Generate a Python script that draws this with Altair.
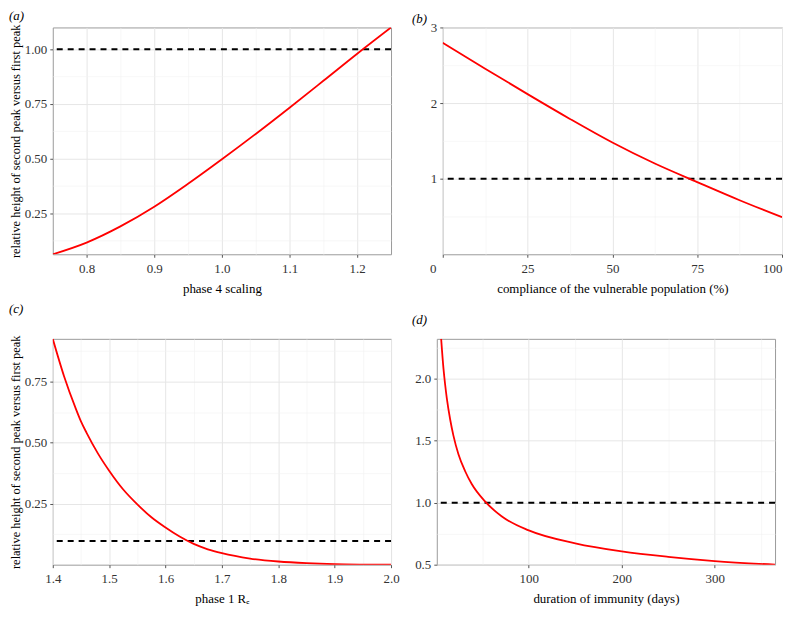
import json
import altair as alt
import pandas as pd

FONT = "Liberation Serif"
RED = "#ff0000"

# ---- panel (a): phase 4 scaling
a_x = [0.75, 0.8, 0.85, 0.9, 0.95, 1.0, 1.05, 1.1, 1.15, 1.2, 1.25]
a_y = [0.0625, 0.116, 0.19, 0.28, 0.385, 0.497, 0.613, 0.733, 0.856, 0.98, 1.10]
a_ref = [1.0]

# ---- panel (b): compliance of the vulnerable population (%)
b_x = [0, 12.5, 25, 37.5, 50, 62.5, 75, 87.5, 100]
b_y = [2.797, 2.455, 2.118, 1.79, 1.478, 1.20, 0.955, 0.715, 0.49]
b_ref = [1.0]

# ---- panel (c): phase 1 Re
c_x = [1.40, 1.42, 1.44, 1.45, 1.46, 1.48, 1.50, 1.525, 1.55, 1.575, 1.60,
       1.625, 1.65, 1.675, 1.70, 1.75, 1.80, 1.85, 1.90, 1.95, 2.00]
c_y = [0.925, 0.772, 0.644, 0.587, 0.540, 0.456, 0.385, 0.308, 0.247, 0.194, 0.152,
       0.115, 0.085, 0.063, 0.047, 0.025, 0.013, 0.006, 0.002, 0.0005, 0.0]
c_ref = [0.097]

# ---- panel (d): duration of immunity (days)
d_x = [5.7, 8.2, 10.0, 11.8, 15.4, 18.9, 24.3, 31.4, 38.6, 52.9, 70.7, 100,
       150, 200, 250, 300, 365]
d_y = [2.32, 2.08, 1.95, 1.84, 1.67, 1.54, 1.39, 1.255, 1.15, 1.01, 0.89, 0.776,
       0.672, 0.607, 0.563, 0.529, 0.50]
d_ref = [1.0]

YTITLE = "relative height of second peak versus first peak"


def make_axis(major, minor, fmt, title, zero_offset=0, right_value=None):
    vals = sorted(major + minor)
    maj = json.dumps(major)
    is_minor = f"indexof({maj}, datum.value) < 0"
    kw = dict(
        values=vals,
        title=title,
        labelOverlap=False,
        labelExpr=f"indexof({maj}, datum.value) >= 0 ? format(datum.value, '{fmt}') : ''",
        tickOpacity={"condition": {"test": is_minor, "value": 0}, "value": 1},
        gridWidth={"condition": {"test": is_minor, "value": 0.6}, "value": 1},
        gridColor={"condition": {"test": is_minor, "value": "#f1f1f1"}, "value": "#e6e6e6"},
    )
    if zero_offset:
        kw["labelOffset"] = {"condition": {"test": "datum.value == 0", "value": zero_offset}, "value": 0}
    if right_value is not None:
        kw["labelAlign"] = {"condition": {"test": f"datum.value == {right_value}", "value": "right"},
                            "value": "center"}
    return alt.Axis(**kw)


def panel(xs, ys, ref, xdom, ydom, xaxis, yaxis, tag, tag_dx, tag_offset, w, h):
    df = pd.DataFrame({"x": xs, "y": ys})
    rdf = pd.DataFrame({"y": ref})
    xsc = alt.Scale(domain=xdom, nice=False, zero=False)
    ysc = alt.Scale(domain=ydom, nice=False, zero=False)
    rule = alt.Chart(rdf).mark_rule(color="black", strokeWidth=2,
                                    strokeDash=[6, 5]).encode(
        y=alt.Y("y:Q", scale=ysc, axis=yaxis))
    line = alt.Chart(df).mark_line(color=RED, strokeWidth=1.8, clip=True,
                                   interpolate="monotone").encode(
        x=alt.X("x:Q", scale=xsc, axis=xaxis),
        y=alt.Y("y:Q", scale=ysc, axis=yaxis),
    )
    return alt.layer(rule, line).properties(
        width=w, height=h,
        title=alt.TitleParams(text=tag, anchor="start", frame="group", dx=tag_dx,
                              offset=tag_offset, font=FONT, fontSize=13,
                              fontStyle="italic", fontWeight="normal", color="black"),
    )


pa = panel(a_x, a_y, a_ref, [0.75, 1.25], [0.0625, 1.10],
           make_axis([0.8, 0.9, 1.0, 1.1, 1.2], [0.85, 0.95, 1.05, 1.15], ".1f", "phase 4 scaling"),
           make_axis([0.25, 0.5, 0.75, 1.0], [0.125, 0.375, 0.625, 0.875], ".2f", YTITLE),
           "(a)", -44, 0.5, 340, 228)

pb = panel(b_x, b_y, b_ref, [0, 100], [0, 3],
           make_axis([0, 25, 50, 75, 100], [12.5, 37.5, 62.5, 87.5], "d",
                     "compliance of the vulnerable population (%)", zero_offset=-10,
                     right_value=100),
           make_axis([1, 2, 3], [0.5, 1.5, 2.5], "d", None),
           "(b)", -31, -4.5, 341, 228)

pc = panel(c_x, c_y, c_ref, [1.4, 2.0], [0, 0.925],
           make_axis([1.4, 1.5, 1.6, 1.7, 1.8, 1.9, 2.0], [1.45, 1.55, 1.65, 1.75, 1.85, 1.95],
                     ".1f", "phase 1 R\u2091"),
           make_axis([0.25, 0.5, 0.75], [0.125, 0.375, 0.625, 0.875], ".2f", YTITLE),
           "(c)", -44, 19, 340, 227)

pd_ = panel(d_x, d_y, d_ref, [1, 365], [0.5, 2.32],
            make_axis([100, 200, 300], [50, 150, 250, 350], "d", "duration of immunity (days)"),
            make_axis([0.5, 1.0, 1.5, 2.0], [0.75, 1.25, 1.75, 2.25], ".1f", None),
            "(d)", -25, 12, 340, 227)

row1 = alt.hconcat(pa, pb, spacing=18)
row2 = alt.hconcat(pc, pd_, spacing=11)

chart = alt.vconcat(row1, row2, spacing=6).properties(padding=0).configure_view(
    stroke="#9a9a9a", strokeWidth=1
).configure_axis(
    domain=False,
    labelFont=FONT, labelFontSize=13, labelColor="#333333",
    titleFont=FONT, titleFontSize=13, titleFontWeight="normal", titleColor="black",
    tickSize=3, tickColor="#555555", labelPadding=3,
    labelFlush=False,
).configure_axisY(titlePadding=2, titleFontSize=12.5
).configure_axisX(titlePadding=7, labelPadding=5)

chart.save("out.html", embed_options={"renderer": "svg", "actions": False})
